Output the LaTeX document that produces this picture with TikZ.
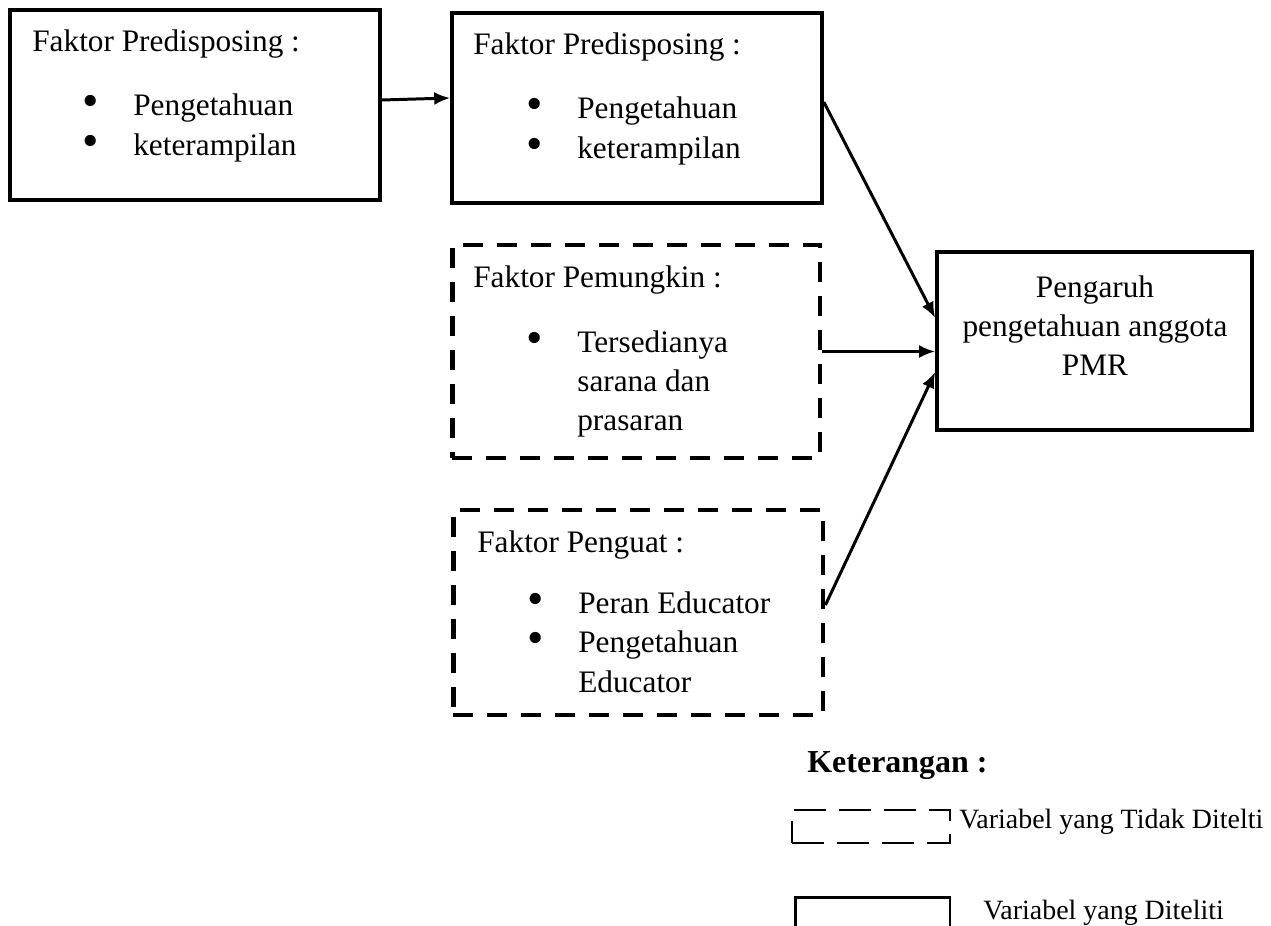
\documentclass[tikz,border=0pt]{standalone}
\usepackage{fontspec}
\usepackage{graphicx}
\setmainfont{Liberation Serif}
\usetikzlibrary{arrows.meta}
\newcommand{\bul}{\llap{\smash{\raisebox{-0.12ex}{\scalebox{1.5}{\textbullet}}}\hspace{0.68cm}}}
\tikzset{
  box/.style={draw, line width=2.1pt, inner sep=0pt},
  dbox/.style={draw, line width=2.8pt, dash pattern=on 0.4cm off 0.28cm, inner sep=0pt},
  txt/.style={anchor=base west, inner sep=0pt, font=\fontsize{17.8}{22}\selectfont},
  arr/.style={line width=1.7pt, -{Latex[length=0.32cm,width=0.26cm]}}
}
\begin{document}
\begin{tikzpicture}[x=0.02cm,y=-0.02cm]
  \useasboundingbox (0,0) rectangle (1271,926);
  % boxes
  \node[box, minimum width=7.4cm, minimum height=3.8cm] (a) at (195,105) {};
  \node[box, minimum width=7.4cm, minimum height=3.8cm] (b) at (637,108) {};
  \node[dbox, minimum width=7.36cm, minimum height=4.26cm] (c) at (636,351.5) {};
  \node[dbox, minimum width=7.4cm, minimum height=4.1cm] (d) at (638,612.5) {};
  \node[box, minimum width=6.3cm, minimum height=3.56cm] (e) at (1094.5,341) {};
  % texts
  \node[txt] (aT) at (32,52) {Faktor Predisposing :};
  \node[txt] (a1) at (133,115) {\bul Pengetahuan};
  \node[txt] (a2) at (133,155) {\bul keterampilan};
  \node[txt] (bT) at (473,55) {Faktor Predisposing :};
  \node[txt] (b1) at (577,118) {\bul Pengetahuan};
  \node[txt] (b2) at (577,158) {\bul keterampilan};
  \node[txt] (cT) at (473,287) {Faktor Pemungkin :};
  \node[txt] (c1) at (577,352) {\bul Tersedianya};
  \node[txt] (c2) at (577,391) {sarana dan};
  \node[txt] (c3) at (577,430) {prasaran};
  \node[txt] (dT) at (477,552) {Faktor Penguat :};
  \node[txt] (d1) at (578,613) {\bul Peran Educator};
  \node[txt] (d2) at (578,652) {\bul Pengetahuan};
  \node[txt] (d3) at (578,692) {Educator};
  \node[inner sep=0pt, align=center, font=\fontsize{17.8}{22.2}\selectfont] (eT) at (1095,326)
    {Pengaruh\\pengetahuan anggota\\PMR};
  % arrows
  \draw[arr] ([yshift=0.1cm]a.east) -- ([yshift=0.2cm]b.west);
  \draw[arr] ([yshift=0.12cm]b.east) -- ([yshift=0.46cm]e.west);
  \draw[arr] (c.east) -- (c.east -| e.west);
  \draw[arr] ([yshift=0.15cm]d.east) -- ([yshift=-0.62cm]e.west);
  % keterangan
  \node[txt, font=\fontsize{18.2}{22}\selectfont\bfseries] (ket) at (807,772) {Keterangan :};
  \node[draw, line width=1.5pt, dash pattern=on 0.64cm off 0.26cm, inner sep=0pt,
    minimum width=3.16cm, minimum height=0.66cm] (ld) at (871,826.5) {};
  \node[txt, font=\fontsize{15.9}{19}\selectfont] (ldT) at (959,828) {Variabel yang Tidak Ditelti};
  \node[draw, line width=1.7pt, inner sep=0pt, minimum width=3.1cm, minimum height=0.62cm] (ls) at (872.5,912.5) {};
  \node[txt, font=\fontsize{15.9}{19}\selectfont] (lsT) at (983,919) {Variabel yang Diteliti};
\end{tikzpicture}
\end{document}
